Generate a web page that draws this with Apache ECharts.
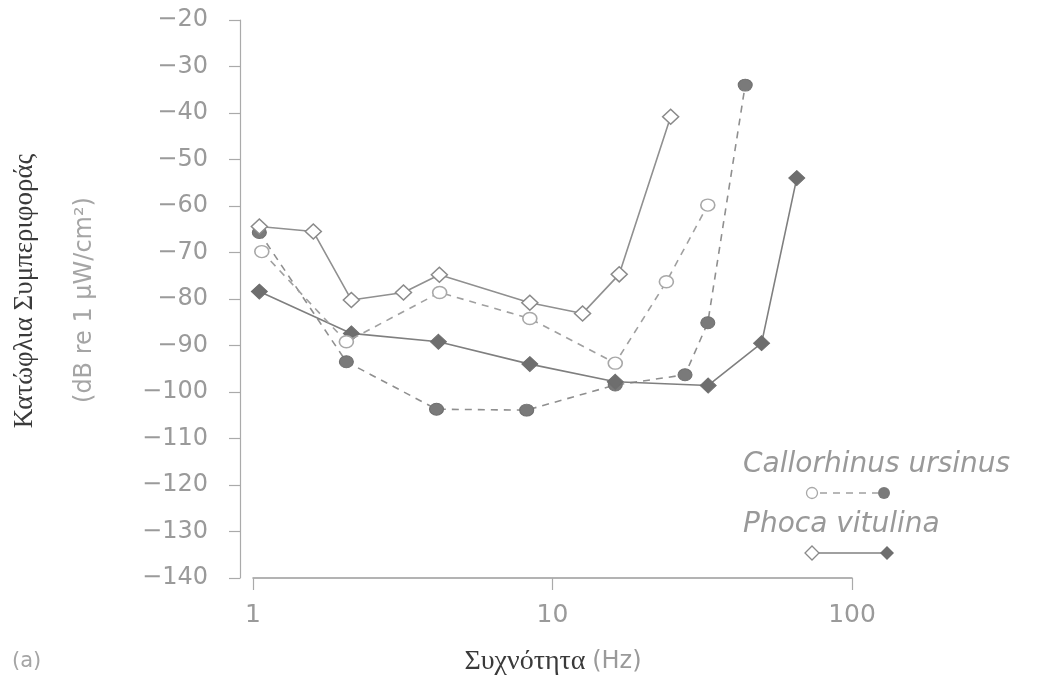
<!DOCTYPE html>
<html>
<head>
<meta charset="utf-8">
<script src="https://cdn.jsdelivr.net/npm/echarts@6/dist/echarts.min.js"></script>
<style>
html,body{margin:0;padding:0;background:#fff;}
#chart{width:1037px;height:688px;}
</style>
</head>
<body>
<div id="chart"></div>
<script>
// Callorhinus ursinus – open circles (dashed)
const cuOpenFreq = [1.07, 2.05, 4.2, 8.4, 16.2, 24, 33];
const cuOpenDb   = [-69.8, -89.2, -78.6, -84.2, -93.8, -76.3, -59.8];
// Callorhinus ursinus – filled circles (dashed)
const cuFillFreq = [1.05, 2.05, 4.1, 8.2, 16.2, 27.7, 33, 44];
const cuFillDb   = [-65.7, -93.5, -103.7, -103.9, -98.5, -96.3, -85.1, -34.0];
// Phoca vitulina – open diamonds (solid)
const pvOpenFreq = [1.05, 1.59, 2.13, 3.18, 4.19, 8.4, 12.6, 16.7, 24.8];
const pvOpenDb   = [-64.4, -65.5, -80.2, -78.6, -74.8, -80.8, -83.1, -74.7, -40.8];
// Phoca vitulina – filled diamonds (solid)
const pvFillFreq = [1.05, 2.13, 4.16, 8.4, 16.2, 33.1, 49.9, 65.4];
const pvFillDb   = [-78.4, -87.4, -89.2, -94.0, -97.8, -98.6, -89.5, -54.0];

const xTickLabels = ['1', '10', '100'];
const yTickLabels = ['−20','−30','−40','−50','−60','−70','−80','−90','−100','−110','−120','−130','−140'];

const seriesNames = ['Callorhinus ursinus', 'Phoca vitulina'];

function pairs(xs, ys) { return xs.map((x, i) => [x, ys[i]]); }

const labelFont = 'DejaVu Sans';
const grayText = '#9a9a9a';
const lineGray = '#8f8f8f';
const fillGray = '#7a7a7a';

const chart = echarts.init(document.getElementById('chart'));
chart.setOption({
  backgroundColor: '#ffffff',
  animation: false,
  grid: { left: 253, right: 185, top: 20, bottom: 110, containLabel: false },
  xAxis: {
    type: 'log', logBase: 10, min: 1, max: 100,
    axisLine: { show: true, lineStyle: { color: '#9a9a9a', width: 1.5 } },
    axisTick: { show: true, length: 12, lineStyle: { color: '#aaaaaa', width: 1.2 } },
    minorTick: { show: false },
    splitLine: { show: false },
    axisLabel: {
      margin: 25, color: grayText, fontFamily: labelFont, fontSize: 25,
      formatter: function (v) {
        const i = Math.round(Math.log10(v));
        return xTickLabels[i] !== undefined ? xTickLabels[i] : '';
      }
    }
  },
  yAxis: {
    type: 'value', min: -140, max: -20, interval: 10, offset: 13,
    axisLine: { show: true, lineStyle: { color: '#aaaaaa', width: 1.2 } },
    axisTick: { show: true, length: 11, lineStyle: { color: '#aaaaaa', width: 1.2 } },
    splitLine: { show: false },
    axisLabel: {
      margin: 32, color: grayText, fontFamily: labelFont, fontSize: 24,
      formatter: function (v) {
        const i = Math.round((-20 - v) / 10);
        return yTickLabels[i] !== undefined ? yTickLabels[i] : '';
      }
    }
  },
  series: [
    {
      name: seriesNames[0] + ' (filled)', type: 'line', data: pairs(cuFillFreq, cuFillDb),
      symbol: 'circle', symbolSize: [14, 12],
      lineStyle: { color: lineGray, width: 1.6, type: [7, 6] },
      itemStyle: { color: fillGray, borderColor: '#6f6f6f', borderWidth: 1 }, z: 2
    },
    {
      name: seriesNames[1] + ' (filled)', type: 'line', data: pairs(pvFillFreq, pvFillDb),
      symbol: 'diamond', symbolSize: [16, 15],
      lineStyle: { color: '#7f7f7f', width: 1.6, type: 'solid' },
      itemStyle: { color: '#6e6e6e', borderColor: '#6e6e6e', borderWidth: 1 }, z: 3
    },
    {
      name: seriesNames[0] + ' (open)', type: 'line', data: pairs(cuOpenFreq, cuOpenDb),
      symbol: 'circle', symbolSize: [14, 12],
      lineStyle: { color: '#a0a0a0', width: 1.6, type: [7, 6] },
      itemStyle: { color: '#ffffff', borderColor: '#a8a8a8', borderWidth: 1.5 }, z: 4
    },
    {
      name: seriesNames[1] + ' (open)', type: 'line', data: pairs(pvOpenFreq, pvOpenDb),
      symbol: 'diamond', symbolSize: [16, 15],
      lineStyle: { color: '#909090', width: 1.6, type: 'solid' },
      itemStyle: { color: '#ffffff', borderColor: '#8a8a8a', borderWidth: 1.5 }, z: 5
    }
  ],
  graphic: [
    // y axis title (two lines, rotated)
    { type: 'text', x: 25, y: 291, rotation: Math.PI / 2,
      style: { text: 'Κατώφλια Συμπεριφοράς', font: '27px "Liberation Serif"', fill: '#3a3a3a',
               align: 'center', verticalAlign: 'middle' } },
    { type: 'text', x: 85, y: 300, rotation: Math.PI / 2,
      style: { text: '(dB re 1 μW/cm²)', font: '24px "DejaVu Sans"', fill: '#a5a5a5',
               align: 'center', verticalAlign: 'middle' } },
    // x axis title
    { type: 'text', x: 553, y: 662,
      style: { text: '{a|Συχνότητα}  {b|(Hz)}', align: 'center', verticalAlign: 'middle',
        rich: {
          a: { fontFamily: 'Liberation Serif', fontSize: 28, fill: '#3a3a3a' },
          b: { fontFamily: 'DejaVu Sans', fontSize: 24, fill: '#9a9a9a' }
        } } },
    // panel label
    { type: 'text', x: 12, y: 662,
      style: { text: '(a)', font: '21px "DejaVu Sans"', fill: '#a5a5a5', align: 'left', verticalAlign: 'middle' } },
    // legend
    { type: 'text', x: 743, y: 465,
      style: { text: seriesNames[0], font: 'italic 28px "DejaVu Sans"', fill: '#999999', align: 'left', verticalAlign: 'middle' } },
    { type: 'line', shape: { x1: 820, y1: 493, x2: 878, y2: 493 },
      style: { stroke: '#a0a0a0', lineWidth: 1.6, lineDash: [7, 6] } },
    { type: 'circle', shape: { cx: 812, cy: 493, r: 5.5 },
      style: { fill: '#ffffff', stroke: '#a8a8a8', lineWidth: 1.3 } },
    { type: 'circle', shape: { cx: 884, cy: 493, r: 6 },
      style: { fill: fillGray } },
    { type: 'text', x: 743, y: 525,
      style: { text: seriesNames[1], font: 'italic 28px "DejaVu Sans"', fill: '#999999', align: 'left', verticalAlign: 'middle' } },
    { type: 'line', shape: { x1: 818, y1: 553, x2: 882, y2: 553 },
      style: { stroke: '#808080', lineWidth: 1.6 } },
    { type: 'polygon', shape: { points: [[812, 546], [819, 553], [812, 560], [805, 553]] },
      style: { fill: '#ffffff', stroke: '#8a8a8a', lineWidth: 1.3 } },
    { type: 'polygon', shape: { points: [[887, 546], [894, 553], [887, 560], [880, 553]] },
      style: { fill: '#6e6e6e' } }
  ]
});
</script>
</body>
</html>
